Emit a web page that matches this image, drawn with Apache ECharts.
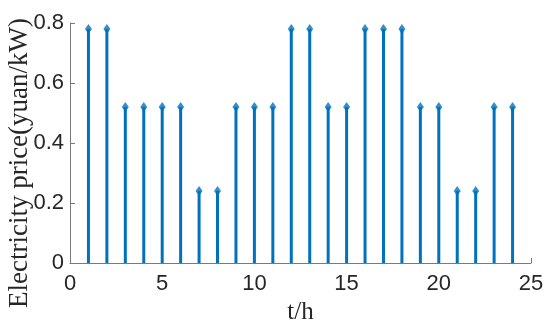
<!DOCTYPE html>
<html><head><meta charset="utf-8">
<script src="https://cdn.jsdelivr.net/npm/echarts@6/dist/echarts.min.js"></script>
<style>html,body{margin:0;padding:0;background:#fff}#c{width:550px;height:333px}</style>
</head><body><div id="c"></div>
<script>
const hours = [1,2,3,4,5,6,7,8,9,10,11,12,13,14,15,16,17,18,19,20,21,22,23,24];
const prices = [0.78,0.78,0.52,0.52,0.52,0.52,0.24,0.24,0.52,0.52,0.52,0.78,0.78,0.52,0.52,0.78,0.78,0.78,0.52,0.52,0.24,0.24,0.52,0.52];
const xTicks = [0,5,10,15,20,25];
const yTicks = [0,0.2,0.4,0.6,0.8];
const xName = 't/h';
const yName = 'Electricity price(yuan/kW)';
const pts = hours.map((h,i)=>[h,prices[i]]);
const blue = '#0072BD';
const chart = echarts.init(document.getElementById('c'));
chart.setOption({
  animation:false,
  grid:{left:70,right:19,top:23,bottom:70},
  graphic:[{type:'text',x:20,y:163,rotation:Math.PI/2,
    style:{text:yName,fontFamily:'Liberation Serif',fontSize:27,fill:'#262626',align:'center',verticalAlign:'middle'}}],
  xAxis:{type:'value',min:xTicks[0],max:xTicks[xTicks.length-1],interval:5,
    name:xName,nameLocation:'middle',nameGap:37,
    nameTextStyle:{fontFamily:'Liberation Serif',fontSize:25,color:'#262626'},
    axisLine:{show:true,lineStyle:{color:'#7a7a7a',width:1}},
    axisTick:{show:true,inside:true,length:5,lineStyle:{color:'#7a7a7a'}},
    axisLabel:{fontFamily:'Liberation Sans',fontSize:22,color:'#262626',margin:10},
    splitLine:{show:false}},
  yAxis:{type:'value',min:yTicks[0],max:yTicks[yTicks.length-1],interval:0.2,
    axisLine:{show:true,lineStyle:{color:'#7a7a7a',width:1}},
    axisTick:{show:true,inside:true,length:5,lineStyle:{color:'#7a7a7a'}},
    axisLabel:{fontFamily:'Liberation Sans',fontSize:22,color:'#262626',margin:6,
      formatter:v=>v===0?'0':v.toFixed(1)},
    splitLine:{show:false}},
  series:[
    {type:'bar',data:pts,barWidth:3,itemStyle:{color:blue}},
    {type:'scatter',data:pts,symbol:'diamond',symbolSize:[7,10],itemStyle:{color:blue}}
  ]
});
</script></body></html>
